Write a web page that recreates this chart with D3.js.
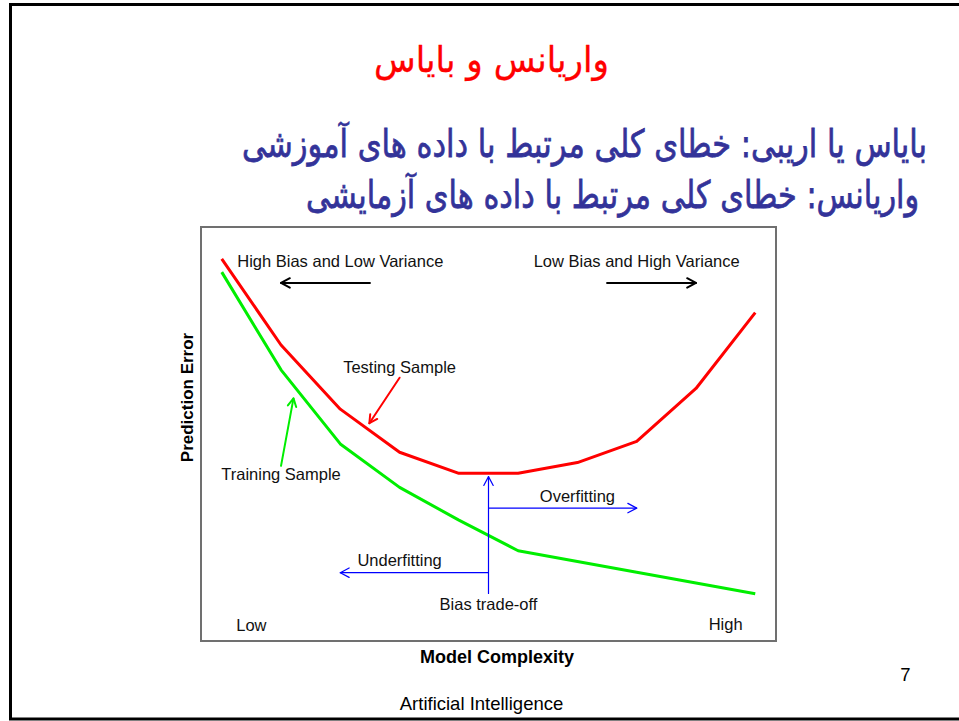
<!DOCTYPE html>
<html>
<head>
<meta charset="utf-8">
<script src="https://cdn.jsdelivr.net/npm/d3@7"></script>
<style>
  html, body { margin: 0; padding: 0; background: #fff; }
  svg { display: block; }
</style>
</head>
<body>
<svg id="chart" width="959" height="721"></svg>
<script>
// ---------- data ----------
const complexity = [1, 2, 3, 4, 5, 6, 7, 8, 9, 10];
const testingError = [9.23, 7.15, 5.60, 4.56, 4.05, 4.05, 4.31, 4.82, 6.10, 7.93];
const trainingError = [8.91, 6.55, 4.76, 3.71, 2.92, 2.18, 1.92, 1.66, 1.40, 1.14];

const slideTitle = "واریانس و بایاس";
const slideLines = [
  "بایاس یا اریبی: خطای کلی مرتبط با داده های آموزشی",
  "واریانس: خطای کلی مرتبط با داده های آزمایشی"
];
const xAxisTitle = "Model Complexity";
const yAxisTitle = "Prediction Error";
const footerText = "Artificial Intelligence";
const pageNumber = "7";

const labelTexts = ["High Bias and Low Variance", "Low Bias and High Variance", "Testing Sample",
  "Training Sample", "Overfitting", "Underfitting", "Bias trade-off", "Low", "High"];
const labelX = [3.0, 8.0, 4.0, 2.0, 7.0, 4.0, 5.5, 1.5, 9.5];
const labelY = [9.03, 9.03, 6.47, 3.89, 3.36, 1.81, 0.75, 0.24, 0.27];

const arrowFrom = [[3.5, 8.65], [7.5, 8.65], [4.0, 6.36], [2.0, 4.23], [5.5, 1.15], [5.5, 3.21], [5.5, 1.65]];
const arrowTo   = [[2.0, 8.65], [9.0, 8.65], [3.49, 5.26], [2.21, 5.86], [5.5, 3.97], [8.0, 3.21], [3.0, 1.65]];
const arrowKind = ["black", "black", "red", "green", "blue", "blue", "blue"];

// ---------- styles ----------
const kindStyle = {
  black: { color: "#000", width: 2, head: 10 },
  red:   { color: "#ff0000", width: 2, head: 9 },
  green: { color: "#00ee00", width: 2, head: 9 },
  blue:  { color: "#0000ff", width: 1.2, head: 10 }
};

const svg = d3.select("#chart");

// slide frame
svg.append("rect").attr("x", 10.5).attr("y", 4.5).attr("width", 960).attr("height", 714.5)
  .attr("fill", "#fff").attr("stroke", "#000").attr("stroke-width", 3);

// Persian title and lines
function fitText(sel, target) {
  const w = sel.node().getComputedTextLength();
  const fs = parseFloat(sel.attr("font-size"));
  sel.attr("font-size", fs * target / w);
}
function persianText(str, cx, base, width, color, vScale, sw) {
  const g = svg.append("g").attr("transform", `translate(${cx},${base}) scale(1,${vScale})`);
  const tt = g.append("text").attr("x", 0).attr("y", 0).attr("text-anchor", "middle")
    .attr("direction", "rtl").attr("font-family", "DejaVu Sans").attr("font-size", 30)
    .attr("fill", color).attr("stroke", color).attr("stroke-width", sw).text(str);
  fitText(tt, width);
}
persianText(slideTitle, 491.5, 72, 235, "#ff0000", 1.05, 0.3);

const lineCenters = [584.5, 612.5];
const lineBase = [157, 208];
const lineWidths = [685, 613];
slideLines.forEach((s, i) => persianText(s, lineCenters[i], lineBase[i], lineWidths[i], "#333399", 1.25, 0.6));

// ---------- chart ----------
const x = d3.scaleLinear().domain([0.65, 10.35]).range([201, 776]);
const y = d3.scaleLinear().domain([0, 10]).range([641, 227]);

svg.append("rect")
  .attr("x", x.range()[0]).attr("y", y.range()[1])
  .attr("width", x.range()[1] - x.range()[0]).attr("height", y.range()[0] - y.range()[1])
  .attr("fill", "none").attr("stroke", "#707070").attr("stroke-width", 2);

const line = d3.line().x((d, i) => x(complexity[i])).y(d => y(d));

svg.append("path").datum(trainingError).attr("d", line)
  .attr("fill", "none").attr("stroke", "#00ee00").attr("stroke-width", 3).attr("stroke-linejoin", "round");
svg.append("path").datum(testingError).attr("d", line)
  .attr("fill", "none").attr("stroke", "#ff0000").attr("stroke-width", 3).attr("stroke-linejoin", "round");

// arrows
arrowFrom.forEach((f, i) => {
  const st = kindStyle[arrowKind[i]];
  const x1 = x(f[0]), y1 = y(f[1]), x2 = x(arrowTo[i][0]), y2 = y(arrowTo[i][1]);
  const g = svg.append("g").attr("stroke", st.color).attr("stroke-width", st.width)
    .attr("fill", "none").attr("stroke-linecap", "round").attr("stroke-linejoin", "round");
  g.append("line").attr("x1", x1).attr("y1", y1).attr("x2", x2).attr("y2", y2);
  const ang = Math.atan2(y2 - y1, x2 - x1);
  const a = 0.49;
  const p1 = [x2 - st.head * Math.cos(ang - a), y2 - st.head * Math.sin(ang - a)];
  const p2 = [x2 - st.head * Math.cos(ang + a), y2 - st.head * Math.sin(ang + a)];
  g.append("path").attr("d", `M${p1[0]},${p1[1]}L${x2},${y2}L${p2[0]},${p2[1]}`);
});

// labels
labelTexts.forEach((s, i) => {
  svg.append("text").attr("x", x(labelX[i])).attr("y", y(labelY[i]))
    .attr("text-anchor", "middle").attr("font-family", "Liberation Sans, Arial, sans-serif")
    .attr("font-size", 16.5).attr("fill", "#111").text(s);
});

// axis titles
svg.append("text").attr("x", 497).attr("y", 663).attr("text-anchor", "middle")
  .attr("font-family", "Liberation Sans, Arial, sans-serif").attr("font-weight", "bold")
  .attr("font-size", 18).attr("fill", "#000").text(xAxisTitle);
svg.append("text").attr("transform", "translate(192.5,397.5) rotate(-90)").attr("text-anchor", "middle")
  .attr("font-family", "Liberation Sans, Arial, sans-serif").attr("font-weight", "bold")
  .attr("font-size", 17).attr("fill", "#000").text(yAxisTitle);

// footer
svg.append("text").attr("x", 481.5).attr("y", 710).attr("text-anchor", "middle")
  .attr("font-family", "Liberation Sans, Arial, sans-serif").attr("font-size", 18.5)
  .attr("fill", "#000").text(footerText);
svg.append("text").attr("x", 905.5).attr("y", 681).attr("text-anchor", "middle")
  .attr("font-family", "Liberation Sans, Arial, sans-serif").attr("font-size", 18.5)
  .attr("fill", "#000").text(pageNumber);
</script>
</body>
</html>
